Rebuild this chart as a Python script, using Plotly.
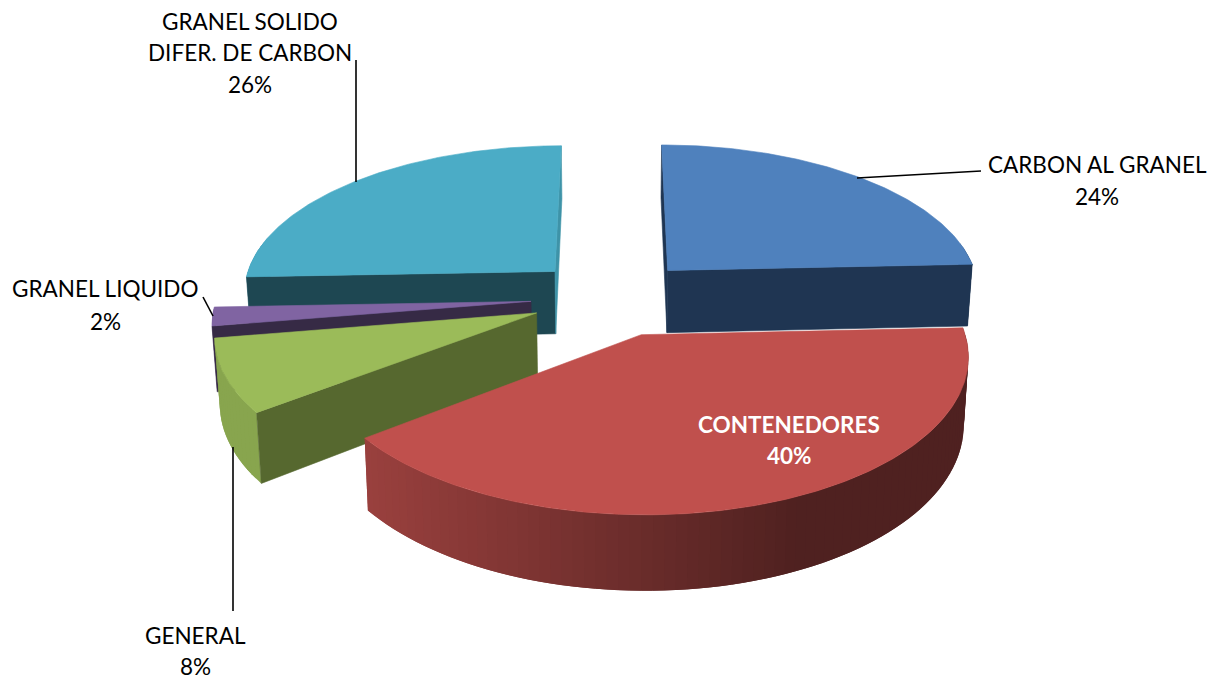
import math
import plotly.graph_objects as go

# ---- data ----
categories = ["CARBON AL GRANEL", "CONTENEDORES", "GENERAL", "GRANEL LIQUIDO", "GRANEL SOLIDO<br>DIFER. DE CARBON"]
values = [24.3, 40.3, 7.8, 2.0, 25.6]
top_colors = ["#4F81BD", "#C0504D", "#9BBB59", "#8064A2", "#4BACC6"]
start_face_colors = ["#1F3552", "#4E1F1E", "#56682F", "#362A45", "#1E4752"]
end_face_colors = ["#1F3552", "#4E1F1E", "#56682F", "#362A45", "#3E93A8"]
draw_order = [4, 0, 3, 2, 1]
label_x = [1097, 789, 195, 105, 250]
label_first_y = [164, 424, 635, 288, 21]
label_line_gap = [32, 31, 31, 33, 31.5]
label_colors = ["#000000", "#FFFFFF", "#000000", "#000000", "#000000"]
label_bold = [False, True, False, False, False]
leader_x = [[857, 981], None, [233, 233], [213, 203], [356, 356]]
leader_y = [[178, 171], None, [447, 611], [316, 297], [182, 60]]

# ---- projection of the exploded 3D pie ----
CX, CY, A, B, P, EXPL, DEPTH = 612.5, 297.5, 314, 147.5, 0.125, 0.26, 64


def project(x, y, down=False):
    s = 1 / (1 + P * y)
    X, Y = CX + A * x * s, CY - B * y * s
    if down:
        X = CX + (X - CX) * 0.987
        Y = Y + DEPTH * (1 - 0.15 * y)
    return X, Y


def shade(hex_color, f):
    r, g, b = (int(hex_color[i:i + 2], 16) for i in (1, 3, 5))
    return f"rgb({r * f:.0f},{g * f:.0f},{b * f:.0f})"


def poly(points, color, edge=0.6):
    xs = [p[0] for p in points] + [points[0][0]]
    ys = [p[1] for p in points] + [points[0][1]]
    return go.Scatter(x=xs, y=ys, mode="lines", fill="toself", fillcolor=color,
                      line=dict(color=color, width=edge), hoverinfo="skip", showlegend=False)


fig = go.Figure()
total = sum(values)
starts = [sum(values[:i]) / total * 2 * math.pi for i in range(len(values))]

for i in draw_order:
    t0 = starts[i]
    t1 = t0 + values[i] / total * 2 * math.pi
    mid = (t0 + t1) / 2
    ox, oy = EXPL * math.sin(mid), EXPL * math.cos(mid)
    n = max(4, round(values[i] * 2))
    ts = [t0 + (t1 - t0) * k / n for k in range(n + 1)]
    pt = lambda t: (ox + math.sin(t), oy + math.cos(t))
    apex = (ox, oy)

    # outer wall: each strip overlaps the next one so that no seams show
    for k in range(n):
        a, b = ts[k], ts[k + 1]
        if math.cos((a + b) / 2) > 0.2:
            continue
        e = ts[min(k + 2, n)]
        quad = [project(*pt(a)), project(*pt(e)), project(*pt(e), True), project(*pt(a), True)]
        xm = (project(*pt(a))[0] + project(*pt(b))[0]) / 2
        f = max(0.41, min(0.88, 0.8 - (xm - 367) / (800 - 367) * 0.39))
        fig.add_trace(poly(quad, shade(top_colors[i], f), edge=0))

    # radial walls seen by the viewer
    if math.sin(t0) < 0.01:
        q = pt(t0)
        fig.add_trace(poly([project(*apex), project(*q), project(*q, True), project(*apex, True)],
                           start_face_colors[i]))
    if math.sin(t1) > -0.01:
        q = pt(t1)
        fig.add_trace(poly([project(*apex), project(*q), project(*q, True), project(*apex, True)],
                           end_face_colors[i]))

    # top face
    tn = max(8, round(values[i] * 4))
    outline = [project(*apex)] + [project(*pt(t0 + (t1 - t0) * k / tn)) for k in range(tn + 1)]
    fig.add_trace(poly(outline, top_colors[i]))

# leader lines
for lx, ly in zip(leader_x, leader_y):
    if lx:
        fig.add_trace(go.Scatter(x=lx, y=ly, mode="lines", line=dict(color="#000000", width=1.6),
                                 hoverinfo="skip", showlegend=False))

# labels: one real text per line so the line spacing can match
for c, v, x, y0, gap, col, bold in zip(categories, values, label_x, label_first_y, label_line_gap,
                                        label_colors, label_bold):
    lines = c.split("<br>") + [f"{round(v)}%"]
    for j, line in enumerate(lines):
        txt = f"<b>{line}</b>" if bold else line
        fig.add_annotation(x=x, y=y0 + j * gap, text=txt, showarrow=False, xanchor="center", yanchor="middle",
                           font=dict(family="Lato", size=22.5, color=col), align="center")

fig.update_layout(width=1212, height=679, margin=dict(l=0, r=0, t=0, b=0),
                  paper_bgcolor="#FFFFFF", plot_bgcolor="#FFFFFF", showlegend=False,
                  xaxis=dict(range=[0, 1212], visible=False, fixedrange=True),
                  yaxis=dict(range=[679, 0], visible=False, fixedrange=True))
fig.write_html("out.html", config={"displayModeBar": False},
               post_script="document.body.style.margin='0';document.body.style.overflow='hidden';")
